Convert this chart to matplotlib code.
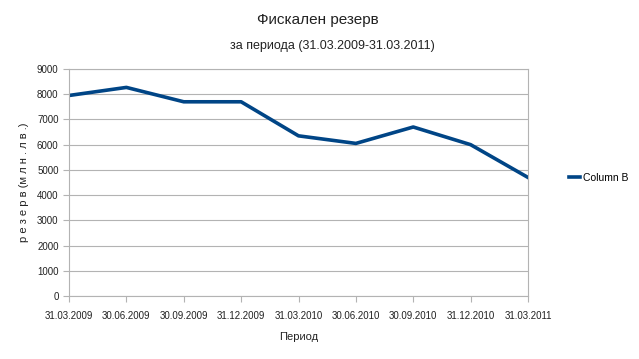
import matplotlib.pyplot as plt

plt.rcParams['font.family'] = ['Liberation Sans Narrow', 'Liberation Sans', 'DejaVu Sans']

dates = ['31.03.2009', '30.06.2009', '30.09.2009', '31.12.2009', '31.03.2010',
         '30.06.2010', '30.09.2010', '31.12.2010', '31.03.2011']
reserve = [7950, 8270, 7700, 7700, 6350, 6050, 6700, 6000, 4700]
yticks = list(range(0, 9001, 1000))

fig = plt.figure(figsize=(6.39, 3.59), dpi=100)
ax = fig.add_axes([69 / 639, 1 - 296 / 359, (528 - 69) / 639, (296 - 69) / 359])

x = list(range(len(dates)))
ax.plot(x, reserve, color='#004586', lw=2.6, label='Column B', solid_joinstyle='round')

ax.set_xlim(0, len(dates) - 1)
ax.set_ylim(0, 9000)
ax.set_yticks(yticks)
ax.set_xticks(x)
ax.set_xticklabels(dates)
ax.tick_params(axis='both', labelsize=7, colors='#b3b3b3', labelcolor='#222222', length=4, width=0.8)
ax.tick_params(axis='x', pad=7)
ax.yaxis.grid(True, color='#b3b3b3', lw=0.8)
ax.set_axisbelow(True)
for s in ax.spines.values():
    s.set_color('#b3b3b3')
    s.set_linewidth(0.8)

ax.set_xlabel('Период', fontsize=8, color='#222222', labelpad=8)
ax.set_ylabel('р е з е р в (м л н . л в .)', fontsize=8, color='#222222', labelpad=6)

fig.text(318 / 639, 1 - 20 / 359, 'Фискален резерв', ha='center', va='center', fontsize=11, color='#222222')
fig.text(332 / 639, 1 - 46 / 359, 'за периода (31.03.2009-31.03.2011)', ha='center', va='center', fontsize=9, color='#222222')

fig.legend(loc='center left', bbox_to_anchor=(560 / 639, 1 - 178 / 359), frameon=False,
           fontsize=7.5, handlelength=1.0, handletextpad=0.3)

fig.savefig('out.png', dpi=100, facecolor='white')
